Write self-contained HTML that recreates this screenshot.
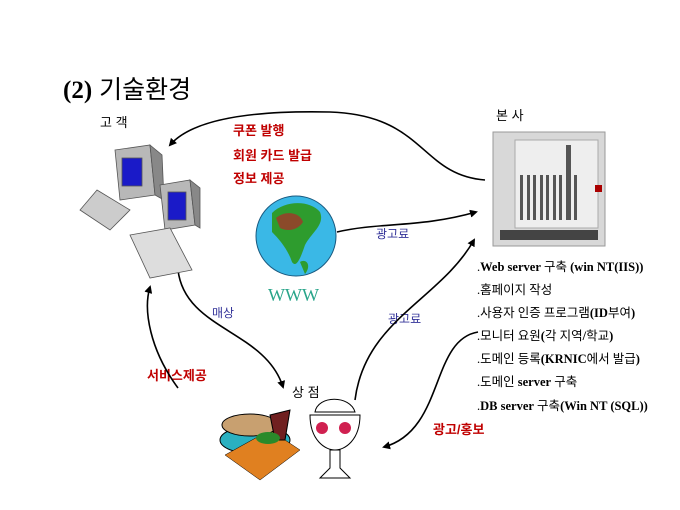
<!DOCTYPE html>
<html><head><meta charset="utf-8"><style>
html,body{margin:0;padding:0;background:#fff}
svg{display:block}
text{font-family:"Liberation Sans","Noto Sans CJK KR",sans-serif}
text.s,.s text,.s tspan,tspan.s{font-family:"Liberation Serif","Noto Sans CJK KR",serif}
</style></head><body>
<svg width="680" height="510" viewBox="0 0 680 510" xmlns="http://www.w3.org/2000/svg">
<defs><marker id="a" markerWidth="8" markerHeight="8" refX="6" refY="4" orient="auto" markerUnits="userSpaceOnUse"><path d="M0,0 L8,4 L0,8 Z" fill="#000"/></marker></defs>
<text x="63" y="98" font-size="25"><tspan class="s" font-weight="bold">(2)</tspan> 기술환경</text>
<text x="100" y="127" font-size="13">고 객</text>
<text x="496" y="120" font-size="13">본 사</text>
<g fill="#c00000" font-size="13" font-weight="bold"><text x="233" y="135">쿠폰 발행</text><text x="233" y="160">회원 카드 발급</text><text x="233" y="183">정보 제공</text>
<text x="147" y="380">서비스제공</text><text x="433" y="434">광고/홍보</text></g>
<g fill="#333399" font-size="12"><text x="376" y="238">광고료</text><text x="212" y="317">매상</text><text x="388" y="323">광고료</text></g>
<text x="292" y="397" font-size="13">상 점</text>
<text x="268" y="301" class="s" font-size="18" fill="#2aa58a">WWW</text>
<g font-size="12.5" class="s">
<text x="477" y="271">.<tspan font-weight="bold">Web server</tspan> 구축 <tspan font-weight="bold">(win NT(IIS))</tspan></text>
<text x="477" y="294">.홈페이지 작성</text>
<text x="477" y="317">.사용자 인증 프로그램<tspan font-weight="bold">(ID</tspan>부여<tspan font-weight="bold">)</tspan></text>
<text x="477" y="340">.모니터 요원<tspan font-weight="bold">(</tspan>각 지역<tspan font-weight="bold">/</tspan>학교<tspan font-weight="bold">)</tspan></text>
<text x="477" y="363">.도메인 등록<tspan font-weight="bold">(KRNIC</tspan>에서 발급<tspan font-weight="bold">)</tspan></text>
<text x="477" y="386">.도메인 <tspan font-weight="bold">server</tspan> 구축</text>
<text x="477" y="410">.<tspan font-weight="bold">DB server</tspan> 구축<tspan font-weight="bold">(Win NT (SQL))</tspan></text>
</g>
<g fill="none" stroke="#000" stroke-width="1.6">
<path d="M485,180 C420,175 425,115 330,112 C240,110 190,122 170,145" marker-end="url(#a)"/>
<path d="M337,232 C380,222 420,228 476,212" marker-end="url(#a)"/>
<path d="M178,388 C150,350 143,310 150,287" marker-end="url(#a)"/>
<path d="M178,270 C185,330 265,330 283,387" marker-end="url(#a)"/>
<path d="M355,400 C365,320 440,300 474,240" marker-end="url(#a)"/>
<path d="M478,332 C430,340 445,430 384,447" marker-end="url(#a)"/>
</g>
<circle cx="296" cy="236" r="40" fill="#3ab8e6" stroke="#1a5a80"/>
<path d="M272,213 C285,200 310,200 320,212 C325,225 312,232 305,245 C300,260 296,268 292,262 C288,250 280,240 272,232 Z" fill="#2e9c2e"/>
<path d="M276,218 C285,210 300,212 303,222 C298,230 288,232 280,228 Z" fill="#8b4a2a"/>
<path d="M300,262 C306,258 312,265 305,274 Z" fill="#2e9c2e"/>
<g stroke="#555" stroke-width="0.8">
<path d="M115,150 L150,145 L155,195 L120,200 Z" fill="#b8b8b8"/>
<rect x="122" y="158" width="20" height="28" fill="#1a1ac8"/>
<path d="M150,145 L162,155 L164,200 L155,195 Z" fill="#888"/>
<path d="M97,190 L130,210 L110,230 L80,210 Z" fill="#ccc"/>
<path d="M160,185 L190,180 L195,225 L165,230 Z" fill="#b8b8b8"/>
<rect x="168" y="192" width="18" height="28" fill="#1a1ac8"/>
<path d="M190,180 L200,188 L200,228 L195,225 Z" fill="#888"/>
<path d="M130,235 L170,228 L192,270 L150,278 Z" fill="#ddd"/>
</g>
<rect x="493" y="132" width="112" height="114" fill="#d8d8d8" stroke="#999"/>
<rect x="515" y="140" width="83" height="88" fill="#eee" stroke="#aaa"/>
<g fill="#555"><rect x="520" y="175" width="3" height="45"/><rect x="527" y="175" width="3" height="45"/><rect x="533" y="175" width="3" height="45"/><rect x="540" y="175" width="3" height="45"/><rect x="546" y="175" width="3" height="45"/><rect x="553" y="175" width="3" height="45"/><rect x="559" y="175" width="3" height="45"/><rect x="566" y="145" width="5" height="75"/><rect x="574" y="175" width="3" height="45"/></g>
<rect x="595" y="185" width="7" height="7" fill="#a00"/>
<rect x="500" y="230" width="98" height="10" fill="#444"/>
<ellipse cx="255" cy="440" rx="35" ry="14" fill="#2ab0c0" stroke="#000"/>
<path d="M225,455 L260,480 L300,450 L270,430 Z" fill="#e08020" stroke="#000" stroke-width="0.5"/>
<ellipse cx="250" cy="425" rx="28" ry="11" fill="#c8a070" stroke="#000"/>
<path d="M270,415 L290,410 L285,440 L275,440 Z" fill="#702020" stroke="#000"/>
<ellipse cx="268" cy="438" rx="12" ry="6" fill="#2a8a2a"/>
<path d="M310,415 L360,415 C360,440 345,450 335,450 C325,450 310,440 310,415 Z" fill="#fff" stroke="#000"/>
<circle cx="322" cy="428" r="6" fill="#d02050"/><circle cx="345" cy="428" r="6" fill="#d02050"/>
<path d="M315,412 C318,395 350,395 355,412 Z" fill="#fff" stroke="#000"/>
<path d="M330,450 L340,450 L340,468 L350,478 L320,478 L330,468 Z" fill="#fff" stroke="#000"/>
</svg>
</body></html>
